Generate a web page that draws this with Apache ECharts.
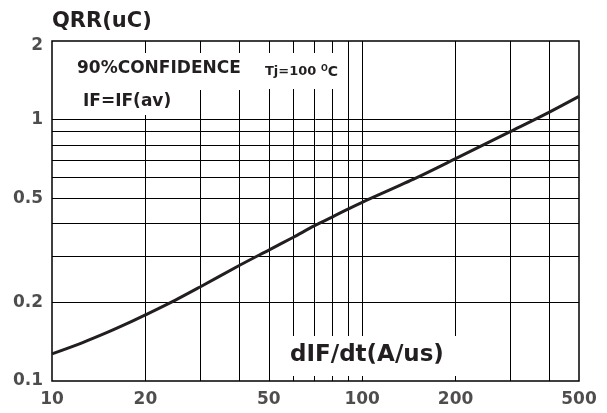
<!DOCTYPE html>
<html>
<head>
<meta charset="utf-8">
<script src="https://cdn.jsdelivr.net/npm/echarts@6/dist/echarts.min.js"></script>
<style>html,body{margin:0;padding:0;background:#fff;}#c{width:607px;height:413px;}</style>
</head>
<body>
<div id="c"></div>
<script>
// ---- data ----
const xTickLabels = [10, 20, 50, 100, 200, 500];
const yTickLabels = [0.1, 0.2, 0.5, 1, 2];
const xGridValues = [20, 30, 40, 50, 60, 70, 80, 90, 100, 200, 300, 400];
const yGridValues = [0.2, 0.3, 0.4, 0.5, 0.6, 0.7, 0.8, 0.9, 1];
const dIFdt = [10, 12.5, 15, 17.5, 20, 25, 30, 40, 50, 60, 70, 80, 90, 100, 150, 200, 300, 400, 500];
const qrr   = [0.127, 0.140, 0.153, 0.166, 0.179, 0.204, 0.229, 0.276, 0.317, 0.355, 0.392, 0.424, 0.455, 0.483, 0.600, 0.709, 0.900, 1.067, 1.228];

const FONT = '"DejaVu Sans", sans-serif';
const INK = '#231f20';

const chart = echarts.init(document.getElementById('c'), null, {renderer: 'canvas'});
chart.setOption({
  animation: false,
  backgroundColor: '#fff',
  grid: {left: 52, right: 28, top: 41, bottom: 32, show: true, borderColor: '#000', borderWidth: 1.5, backgroundColor: 'transparent'},
  xAxis: {type: 'log', logBase: 10, min: 10, max: 500,
    axisLine: {show: false}, axisTick: {show: false}, axisLabel: {show: false}, splitLine: {show: false}, minorSplitLine: {show: false}},
  yAxis: {type: 'log', logBase: 10, min: 0.1, max: 2,
    axisLine: {show: false}, axisTick: {show: false}, axisLabel: {show: false}, splitLine: {show: false}, minorSplitLine: {show: false}},
  series: [
    {
      type: 'line', z: 10,
      data: dIFdt.map((x, i) => [x, qrr[i]]),
      smooth: 0.3, symbol: 'none',
      lineStyle: {color: INK, width: 3},
      markLine: {
        silent: true, symbol: ['none', 'none'], label: {show: false},
        lineStyle: {color: '#000', width: 1, type: 'solid'},
        emphasis: {disabled: true},
        data: xGridValues.map(v => ({xAxis: v})).concat(yGridValues.map(v => ({yAxis: v})))
      }
    },
    {
      type: 'scatter', z: 20, clip: false, silent: true,
      symbolSize: 0,
      data: xTickLabels.map(v => [v, 0.1]),
      label: {show: true, position: 'bottom', distance: 10, formatter: p => String(p.value[0]),
        fontFamily: FONT, fontWeight: 'bold', fontSize: 17, color: INK}
    },
    {
      type: 'scatter', z: 20, clip: false, silent: true,
      symbolSize: 0,
      data: yTickLabels.map(v => v === 2 ? {value: [10, v], label: {offset: [0, 5]}} : [10, v]),
      label: {show: true, position: 'left', distance: 9, formatter: p => String(p.value[1]),
        fontFamily: FONT, fontWeight: 'bold', fontSize: 17, color: INK}
    }
  ],
  graphic: [
    {type: 'text', z: 100, x: 52, y: 22, style: {text: 'QRR(uC)', font: 'bold 21px ' + FONT, fill: INK, textVerticalAlign: 'middle'}},
    {type: 'text', z: 100, x: 70, y: 53, style: {text: '90%CONFIDENCE', font: 'bold 17px ' + FONT, fill: INK,
      textVerticalAlign: 'top', backgroundColor: '#fff', padding: [7.5, 14, 12.5, 7]}},
    {type: 'text', z: 100, x: 255, y: 53, style: {
      text: '{a|Tj=100 }{b|O}{c|C}', fill: INK, textVerticalAlign: 'top',
      backgroundColor: '#fff', padding: [12, 4, 10, 10],
      rich: {
        a: {font: 'bold 13px ' + FONT, fill: INK},
        b: {font: 'bold 8px ' + FONT, fill: INK, verticalAlign: 'top'},
        c: {font: 'bold 14px ' + FONT, fill: INK}
      }}},
    {type: 'text', z: 100, x: 80, y: 90, style: {text: 'IF=IF(av)', font: 'bold 17px ' + FONT, fill: INK,
      textVerticalAlign: 'top', backgroundColor: '#fff', padding: [3.5, 5, 4.5, 3]}},
    {type: 'text', z: 100, x: 280, y: 336, style: {text: 'dIF/dt(A/us)', font: 'bold 23px ' + FONT, fill: INK,
      textVerticalAlign: 'top', backgroundColor: '#fff', padding: [7.5, 21, 9.5, 10]}}
  ]
});
</script>
</body>
</html>
